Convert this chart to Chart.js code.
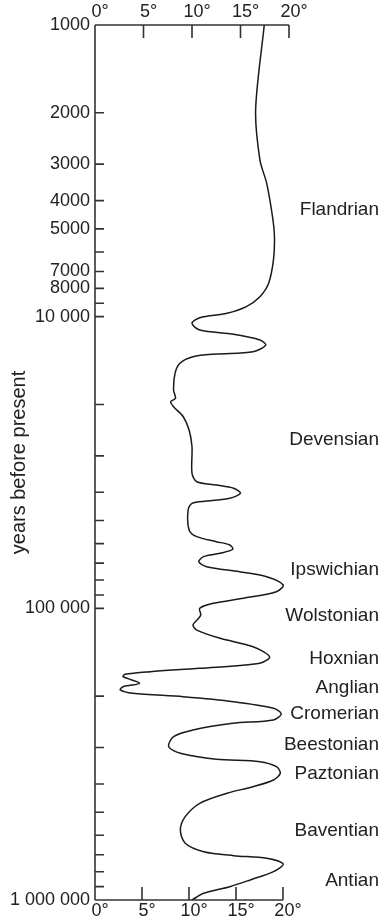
<!DOCTYPE html>
<html>
<head>
<meta charset="utf-8">
<script src="https://cdn.jsdelivr.net/npm/chart.js@4.4.1/dist/chart.umd.min.js"></script>
<style>
  html, body { margin: 0; padding: 0; background: #fff; }
</style>
</head>
<body>
<canvas id="grafico" width="383" height="924"></canvas>
<script>
// years before present (log axis) and temperature
const anos = [
  1000, 1950, 2900, 3490, 4540, 5320, 6390, 7680, 8540, 9240,
  9740, 10080, 10540, 11110, 11490, 12020, 12510, 13190, 13430, 13720,
  14450, 15640, 17840, 19050, 19560, 20350, 22030, 24470, 27910, 34440,
  36800, 37770, 38760, 40330, 41950, 42850, 43640, 46000, 53860, 56800,
  59080, 60640, 62740, 64750, 66510, 69200, 71980, 74880, 77900, 83180,
  87700, 92380, 96090, 99970, 105400, 109000, 114000, 118700, 126700, 135400,
  146500, 154300, 160500, 164900, 168300, 171500, 180700, 185600, 190500, 195600,
  200900, 208900, 220100, 230200, 241400, 247700, 261200, 275400, 298100, 314000,
  329200, 335500, 349000, 367700, 387700, 408800, 430700, 466100, 518000, 575300,
  639000, 683000, 704700, 719300, 752400, 799400, 853500, 900100, 948400, 1000000
];
const temperaturas = [
  17.45, 16.56, 17.0, 17.7, 18.3, 18.5, 18.4, 17.9, 17.0, 15.6,
  13.6, 10.8, 10.0, 10.8, 14.3, 17.0, 17.6, 16.3, 12.5, 10.1,
  8.76, 8.25, 8.1, 8.3, 7.8, 8.1, 9.1, 9.7, 10.0, 10.0,
  10.5, 12.5, 14.3, 15.0, 13.9, 11.5, 10.0, 9.6, 9.7, 10.5,
  12.5, 13.9, 14.2, 12.9, 11.2, 10.7, 11.5, 14.9, 17.7, 19.4,
  18.7, 15.3, 12.2, 10.8, 10.9, 10.6, 10.1, 10.5, 12.9, 16.3,
  18.0, 17.0, 10.8, 5.7, 3.1, 2.9, 4.6, 2.9, 2.6, 3.9,
  9.1, 14.3, 18.4, 19.2, 18.4, 14.2, 10.1, 8.1, 7.6, 8.8,
  12.5, 17.0, 18.7, 19.1, 18.4, 16.3, 13.6, 10.8, 9.3, 8.8,
  9.3, 11.2, 14.3, 17.7, 19.4, 18.4, 16.0, 13.9, 11.2, 10.0
];

const estagios = ['Flandrian', 'Devensian', 'Ipswichian', 'Wolstonian', 'Hoxnian', 'Anglian',
  'Cromerian', 'Beestonian', 'Paztonian', 'Baventian', 'Antian'];
const anosEstagios = [4300, 26500, 73500, 106200, 148400, 186500, 230200, 294100, 369800, 578500, 858500];

const ticksAnos = [
  1000, 2000, 3000, 4000, 5000, 6000, 7000, 8000, 9000,
  10000, 20000, 30000, 40000, 50000, 60000, 70000, 80000, 90000,
  100000, 200000, 300000, 400000, 500000, 600000, 700000, 800000, 900000, 1000000
];
const rotulosAnos = {
  1000: '1000', 2000: '2000', 3000: '3000', 4000: '4000', 5000: '5000',
  7000: '7000', 8000: '8000', 10000: '10 000', 100000: '100 000', 1000000: '1 000 000'
};
const ticksGraus = [0, 5, 10, 15, 20];

Chart.defaults.font.family = '"Liberation Sans", Arial, sans-serif';
Chart.defaults.color = '#222';

const corEixo = '#333';

const eixosPlugin = {
  id: 'eixos',
  afterDraw(chart) {
    const ctx = chart.ctx;
    const area = chart.chartArea;
    const y = chart.scales.y;
    const xt = chart.scales.xt;
    const xb = chart.scales.xb;
    ctx.save();
    ctx.strokeStyle = corEixo;
    ctx.lineWidth = 1.6;
    ctx.beginPath();
    ctx.moveTo(area.left, area.top);
    ctx.lineTo(area.left, area.bottom);
    ctx.moveTo(area.left, area.top);
    ctx.lineTo(xt.getPixelForValue(20), area.top);
    ctx.moveTo(area.left, area.bottom);
    ctx.lineTo(xb.getPixelForValue(20), area.bottom);
    ticksAnos.forEach(v => {
      const py = y.getPixelForValue(v);
      ctx.moveTo(area.left, py);
      ctx.lineTo(area.left + 9, py);
    });
    ticksGraus.forEach(v => {
      const px = xt.getPixelForValue(v);
      ctx.moveTo(px, area.top);
      ctx.lineTo(px, area.top + 13);
    });
    ticksGraus.forEach(v => {
      const px = xb.getPixelForValue(v);
      ctx.moveTo(px, area.bottom);
      ctx.lineTo(px, area.bottom - 13);
    });
    ctx.stroke();

    ctx.fillStyle = '#222';
    ctx.font = '19px "Liberation Sans", Arial, sans-serif';
    ctx.textAlign = 'right';
    ctx.textBaseline = 'middle';
    estagios.forEach((nome, i) => {
      ctx.fillText(nome, chart.width - 4, y.getPixelForValue(anosEstagios[i]));
    });
    ctx.restore();
  }
};

const fonteTicks = { size: 18 };

new Chart(document.getElementById('grafico').getContext('2d'), {
  type: 'scatter',
  data: {
    datasets: [{
      data: anos.map((a, i) => ({ x: temperaturas[i], y: a })),
      xAxisID: 'xt',
      yAxisID: 'y',
      showLine: true,
      borderColor: '#1a1a1a',
      borderWidth: 1.5,
      pointRadius: 0,
      tension: 0.3,
      fill: false
    }]
  },
  options: {
    responsive: false,
    animation: false,
    devicePixelRatio: 1,
    layout: { padding: { left: 0, right: 94, top: 0, bottom: 0 } },
    plugins: { legend: { display: false }, tooltip: { enabled: false } },
    scales: {
      y: {
        type: 'logarithmic',
        position: 'left',
        reverse: true,
        min: 1000,
        max: 1000000,
        grid: { display: false, drawTicks: false },
        border: { display: false },
        afterBuildTicks: s => { s.ticks = ticksAnos.map(v => ({ value: v })); },
        afterFit: s => { s.width = 95; },
        ticks: {
          autoSkip: false,
          padding: 5,
          font: fonteTicks,
          callback: v => rotulosAnos[v] || ''
        },
        title: {
          display: true,
          text: 'years before present',
          font: { size: 20 },
          padding: { top: 7, bottom: 0 }
        }
      },
      xt: {
        type: 'linear',
        position: 'top',
        min: 0,
        max: 20,
        grid: { display: false, drawTicks: false },
        border: { display: false },
        afterBuildTicks: s => { s.ticks = ticksGraus.map(v => ({ value: v })); },
        afterFit: s => { s.height = 25; },
        ticks: { maxRotation: 0, padding: 2, labelOffset: 5, font: fonteTicks, callback: v => v + '°' }
      },
      xb: {
        type: 'linear',
        position: 'bottom',
        min: 0,
        max: 20.64,
        grid: { display: false, drawTicks: false },
        border: { display: false },
        afterBuildTicks: s => { s.ticks = ticksGraus.map(v => ({ value: v })); },
        afterFit: s => { s.height = 24; },
        ticks: { maxRotation: 0, padding: 0, labelOffset: 5, font: fonteTicks, callback: v => v + '°' }
      }
    }
  },
  plugins: [eixosPlugin]
});
</script>
</body>
</html>
